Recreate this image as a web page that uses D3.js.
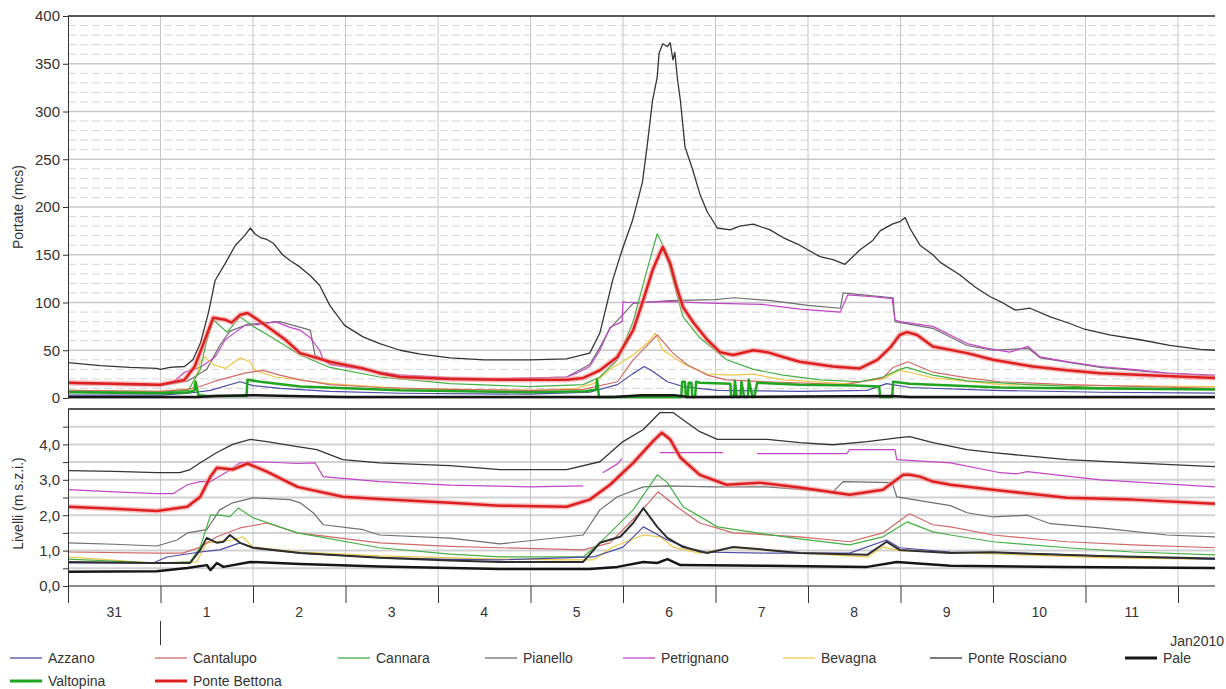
<!DOCTYPE html>
<meta charset="utf-8">
<title>Portate e livelli</title>
<style>
    body { margin: 0; background: #fff; }
    svg { font-family: "Liberation Sans", Arial, sans-serif; }
    .axis text { fill: #333; }
    .axis path, .axis line { stroke: #333; }
</style>
<svg width="1226" height="689"></svg>
<script src="https://d3js.org/d3.v7.min.js"></script>
<script>

    // series keys / legend labels
    var stations = ["Azzano", "Cantalupo", "Cannara", "Pianello", "Petrignano", "Bevagna",
        "Ponte Rosciano", "Pale", "Valtopina", "Ponte Bettona"];

    // day labels under the x axis
    var dayLabels = ["31", "1", "2", "3", "4", "5", "6", "7", "8", "9", "10", "11"];

    var flowTicks = [0, 50, 100, 150, 200, 250, 300, 350, 400];
    var levelTicks = [0, 1, 2, 3, 4];

    // --- portate (mcs), [days since 31 Dec 00:00, value] ---
    var qRosciano = [[0,37],[0.35,34],[0.67,32],[0.96,31],[1.0,30],[1.1,32],[1.26,33],[1.35,40],[1.43,57],[1.52,90],[1.59,123],[1.70,141],[1.81,160],[1.91,170],[1.97,178],[2.02,172],[2.08,168],[2.15,166],[2.22,162],[2.32,150],[2.40,144],[2.51,137],[2.62,128],[2.72,118],[2.83,97],[2.99,76],[3.19,64],[3.37,57],[3.59,50],[3.81,46],[4.13,42],[4.5,40],[4.99,40],[5.39,41],[5.64,47],[5.75,68],[5.89,124],[5.99,155],[6.10,185],[6.16,207],[6.21,226],[6.26,263],[6.32,312],[6.37,336],[6.39,361],[6.43,371],[6.48,368],[6.51,372],[6.54,354],[6.56,362],[6.59,333],[6.62,312],[6.67,263],[6.75,240],[6.83,214],[6.91,195],[7.02,178],[7.16,176],[7.26,180],[7.41,182],[7.59,176],[7.73,168],[7.91,160],[8.13,148],[8.27,145],[8.40,140],[8.56,155],[8.70,165],[8.78,175],[8.91,182],[9.0,185],[9.05,189],[9.10,178],[9.21,160],[9.35,150],[9.43,142],[9.64,129],[9.81,116],[9.97,106],[10.08,101],[10.24,92],[10.40,94],[10.62,85],[10.83,78],[10.99,72],[11.26,66],[11.59,61],[11.91,55],[12.24,51],[12.40,50]];
    var qPetrignano = [[0,16],[0.5,15],[1.0,14],[1.14,17],[1.26,27],[1.43,32],[1.59,43],[1.70,61],[1.81,69],[1.91,76],[2.08,77],[2.24,80],[2.40,74],[2.51,71],[2.62,63],[2.72,50],[2.76,40],[2.83,35],[3.19,30],[3.59,24],[4.13,21],[4.67,20],[5.39,22],[5.50,26],[5.64,33],[5.75,50],[5.86,74],[5.99,80],[6.0,101],[6.04,100],[6.5,101],[7.02,99],[7.5,98],[7.91,93],[8.35,90],[8.43,108],[8.7,106],[8.91,104],[8.94,82],[8.99,80],[9.35,75],[9.72,57],[9.94,52],[10.18,48],[10.38,54],[10.51,43],[10.80,38],[11.16,33],[11.51,30],[11.88,26],[12.40,24]];
    var qPianello = [[0,15],[1.0,13],[1.3,18],[1.5,30],[1.64,55],[1.75,70],[1.94,77],[2.29,80],[2.62,71],[2.67,45],[2.83,36],[3.19,30],[3.59,24],[4.13,21],[4.67,20],[5.39,22],[5.64,35],[5.75,53],[5.86,73],[6.11,99],[6.5,102],[7.0,103],[7.2,105],[7.6,102],[8.0,97],[8.35,94],[8.38,110],[8.7,107],[8.92,105],[8.94,80],[9.35,73],[9.72,55],[10.0,50],[10.38,52],[10.51,42],[11.16,32],[11.88,26],[12.40,23]];
    var qBettona = [[0,16],[0.5,15],[1.0,14],[1.26,19],[1.37,33],[1.48,61],[1.57,84],[1.70,82],[1.77,79],[1.86,87],[1.94,89],[2.02,84],[2.18,73],[2.35,61],[2.51,47],[2.83,38],[3.19,31],[3.37,26],[3.59,22],[4.13,20],[4.67,19],[5.39,19],[5.57,21],[5.75,29],[5.94,43],[6.11,71],[6.22,103],[6.32,134],[6.40,152],[6.43,158],[6.51,141],[6.58,116],[6.65,95],[6.76,79],[6.91,61],[7.05,48],[7.19,45],[7.41,50],[7.56,48],[7.73,43],[7.91,38],[8.27,33],[8.56,31],[8.75,40],[8.89,53],[8.99,66],[9.07,69],[9.18,66],[9.35,54],[9.72,47],[10.0,40],[10.43,33],[10.80,29],[11.16,26],[11.88,23],[12.40,21]];
    var qCannara = [[0,7],[1.0,6],[1.3,8],[1.43,30],[1.50,60],[1.57,82],[1.72,69],[1.86,85],[2.0,75],[2.18,65],[2.51,45],[2.83,32],[3.37,22],[4.13,15],[4.99,12],[5.57,14],[5.75,22],[5.94,40],[6.11,80],[6.22,120],[6.32,155],[6.37,172],[6.43,160],[6.51,135],[6.62,95],[6.65,85],[6.83,63],[6.97,52],[7.12,40],[7.41,30],[7.73,24],[8.13,19],[8.56,17],[8.81,22],[8.99,30],[9.07,32],[9.35,24],[9.72,18],[10.4,14],[11.16,11],[12.40,9]];
    var qCantalupo = [[0,8],[1.0,7],[1.3,9],[1.43,12],[1.6,18],[1.91,26],[2.11,29],[2.29,24],[2.51,19],[2.83,14],[3.37,11],[4.13,9],[4.99,8],[5.57,9],[5.94,17],[6.11,40],[6.29,58],[6.37,66],[6.54,47],[6.69,35],[6.91,24],[7.12,19],[7.56,17],[8.4,14],[8.81,21],[8.92,32],[9.08,38],[9.35,27],[9.72,21],[10.08,17],[10.80,14],[12.40,10]];
    var qBevagna = [[0,8],[1.0,7],[1.35,10],[1.43,38],[1.48,43],[1.57,35],[1.70,31],[1.86,42],[1.97,38],[2.02,29],[2.24,22],[2.83,15],[3.59,10],[4.99,8],[5.50,10],[5.68,15],[5.86,30],[6.11,45],[6.29,60],[6.35,68],[6.43,50],[6.48,47],[6.65,36],[6.91,25],[7.19,24],[7.41,25],[7.73,19],[8.4,15],[8.81,20],[8.99,29],[9.10,27],[9.35,21],[10.08,14],[12.40,12]];
    var qAzzano = [[0,3],[1.0,3],[1.3,5],[1.54,8],[1.86,17],[2.0,13],[2.29,10],[2.83,7],[3.59,5],[4.99,4],[5.64,6],[5.94,14],[6.10,25],[6.23,33],[6.32,28],[6.48,17],[6.65,12],[7.02,8],[7.91,7],[8.64,8],[8.85,15],[9.10,11],[10.0,8],[11.16,6],[12.40,5]];
    var qValtopina = [[0,6],[1.0,5],[1.3,6],[1.37,8],[1.38,17],[1.41,3],[1.5,2],[1.93,2],[1.94,19],[2.08,17],[2.51,12],[3.59,8],[4.99,6],[5.6,7],[5.71,9],[5.72,19],[5.74,1],[6.0,1],[6.63,1],[6.64,17],[6.67,17],[6.68,1],[6.70,1],[6.71,16],[6.74,16],[6.75,1],[6.78,1],[6.79,17],[6.83,16],[7.16,15],[7.17,1],[7.20,1],[7.21,18],[7.23,1],[7.27,1],[7.28,17],[7.31,1],[7.35,1],[7.36,19],[7.40,1],[7.42,1],[7.45,16],[7.91,14],[8.5,13],[8.77,12],[8.78,1],[8.91,1],[8.92,17],[9.1,15],[10.08,11],[11.2,10],[12.40,9]];
    var qPale = [[0,1],[1.4,1],[1.6,2],[2.0,3],[2.4,2],[3.0,1],[5.9,1],[6.2,3],[6.55,3],[6.7,1],[8.9,2],[9.1,1],[12.40,1]];

    // --- livelli (m s.z.i.) ---
    var hRosciano = [[0,3.26],[0.5,3.24],[0.96,3.2],[1.21,3.2],[1.32,3.29],[1.43,3.48],[1.61,3.77],[1.78,4.0],[1.97,4.14],[2.15,4.08],[2.48,3.94],[2.69,3.85],[2.97,3.57],[3.37,3.48],[4.13,3.4],[4.67,3.29],[5.39,3.29],[5.75,3.51],[6.0,4.08],[6.22,4.42],[6.40,4.9],[6.54,4.9],[6.69,4.62],[6.83,4.36],[7.02,4.14],[7.19,4.14],[7.56,4.14],[7.91,4.05],[8.27,3.99],[8.64,4.08],[8.99,4.19],[9.10,4.22],[9.35,4.05],[9.72,3.85],[10.0,3.77],[10.43,3.66],[10.80,3.57],[11.51,3.48],[12.40,3.37]];
    var hPetrignano = [[0,2.72],[0.5,2.66],[0.96,2.61],[1.14,2.61],[1.29,2.86],[1.43,2.95],[1.54,2.95],[1.72,3.23],[1.86,3.48],[2.08,3.51],[2.48,3.46],[2.67,3.48],[2.76,3.09],[3.37,2.95],[4.13,2.85],[4.99,2.8],[5.57,2.83],[5.6,null],[5.78,3.2],[5.94,3.45],[5.99,3.6],[6.0,null],[6.40,3.77],[7.08,3.77],[7.1,null],[7.45,3.74],[8.42,3.74],[8.45,3.85],[8.94,3.85],[8.96,3.57],[9.54,3.48],[10.08,3.2],[10.26,3.17],[10.37,3.23],[11.16,3.0],[12.40,2.8]];
    var hBettona = [[0,2.24],[0.5,2.18],[0.96,2.12],[1.29,2.24],[1.43,2.52],[1.54,3.09],[1.61,3.34],[1.78,3.29],[1.94,3.46],[2.15,3.23],[2.48,2.8],[2.97,2.52],[3.37,2.46],[4.13,2.35],[4.67,2.27],[5.39,2.24],[5.64,2.44],[5.86,2.86],[6.11,3.48],[6.32,4.08],[6.42,4.33],[6.51,4.14],[6.62,3.63],[6.83,3.14],[7.12,2.86],[7.48,2.92],[7.91,2.78],[8.45,2.58],[8.81,2.72],[9.03,3.14],[9.10,3.14],[9.21,3.09],[9.35,2.95],[9.54,2.86],[10.0,2.72],[10.80,2.49],[11.51,2.44],[12.40,2.32]];
    var hPianello = [[0,1.22],[0.5,1.18],[0.96,1.13],[1.18,1.3],[1.29,1.5],[1.50,1.59],[1.64,2.15],[1.78,2.35],[2.0,2.49],[2.40,2.44],[2.51,2.35],[2.65,2.07],[2.76,1.73],[3.19,1.59],[3.37,1.44],[4.13,1.35],[4.67,1.19],[5.57,1.44],[5.75,2.15],[5.94,2.52],[6.22,2.8],[6.48,2.83],[6.97,2.8],[7.56,2.8],[8.27,2.66],[8.38,2.95],[8.91,2.92],[8.96,2.52],[9.54,2.27],[9.72,2.07],[10.0,1.95],[10.37,2.0],[10.62,1.76],[11.16,1.64],[11.88,1.44],[12.40,1.39]];
    var hCantalupo = [[0,0.96],[0.96,0.93],[1.24,0.93],[1.43,1.1],[1.61,1.39],[1.86,1.64],[2.15,1.78],[2.48,1.5],[3.37,1.22],[4.13,1.12],[4.67,1.08],[5.57,1.02],[5.86,1.22],[6.18,2.07],[6.38,2.66],[6.58,2.24],[6.83,1.78],[7.19,1.5],[7.91,1.39],[8.45,1.25],[8.81,1.5],[9.08,2.01],[9.10,2.04],[9.35,1.73],[9.54,1.67],[10.0,1.44],[10.80,1.25],[11.51,1.16],[12.40,1.08]];
    var hCannara = [[0,0.76],[0.96,0.65],[1.32,0.68],[1.43,1.1],[1.54,2.0],[1.64,2.0],[1.75,1.96],[1.84,2.2],[2.0,1.93],[2.48,1.5],[3.37,1.08],[4.13,0.9],[4.67,0.82],[5.57,0.82],[5.75,1.22],[6.11,2.15],[6.37,3.14],[6.48,2.92],[6.65,2.24],[7.02,1.67],[7.45,1.5],[7.91,1.33],[8.45,1.16],[8.81,1.39],[9.07,1.81],[9.35,1.53],[9.54,1.44],[10.0,1.25],[10.80,1.08],[11.51,0.96],[12.40,0.88]];
    var hAzzano = [[0,0.65],[0.92,0.65],[1.07,0.82],[1.43,0.96],[1.64,1.02],[1.86,1.22],[2.0,1.08],[2.51,0.93],[3.37,0.8],[4.13,0.75],[4.67,0.74],[5.68,0.82],[6.0,1.1],[6.22,1.67],[6.48,1.3],[6.83,0.96],[7.56,0.93],[8.45,0.93],[8.85,1.3],[8.99,1.08],[9.54,0.96],[10.0,0.95],[11.16,0.85],[12.40,0.75]];
    var hBevagna = [[0,0.82],[0.92,0.65],[1.39,0.68],[1.50,1.22],[1.78,1.3],[1.89,1.39],[2.0,1.1],[2.51,0.96],[3.37,0.85],[4.67,0.76],[5.39,0.74],[5.68,0.74],[5.89,1.1],[6.22,1.44],[6.40,1.39],[6.54,1.1],[6.83,0.93],[7.19,1.08],[7.91,0.93],[8.64,0.82],[8.81,1.1],[8.99,1.0],[9.54,0.95],[11.16,0.8],[12.40,0.75]];
    var hValtopina = [[0,0.68],[0.92,0.65],[1.32,0.65],[1.43,1.02],[1.50,1.36],[1.61,1.22],[1.68,1.25],[1.75,1.44],[1.86,1.22],[2.0,1.08],[2.51,0.93],[3.37,0.8],[4.13,0.72],[4.67,0.68],[5.57,0.68],[5.75,1.22],[5.97,1.39],[6.11,1.78],[6.22,2.2],[6.37,1.67],[6.48,1.36],[6.65,1.1],[6.91,0.93],[7.19,1.1],[7.56,1.02],[7.91,0.93],[8.64,0.88],[8.85,1.25],[8.99,1.02],[9.54,0.93],[10.0,0.95],[11.16,0.85],[12.40,0.78]];
    var hPale = [[0,0.4],[0.96,0.42],[1.29,0.51],[1.50,0.59],[1.54,0.45],[1.61,0.65],[1.68,0.54],[1.97,0.68],[2.51,0.62],[3.37,0.55],[4.67,0.48],[5.64,0.48],[5.94,0.54],[6.22,0.68],[6.37,0.65],[6.48,0.76],[6.62,0.59],[7.56,0.57],[8.64,0.54],[8.96,0.68],[9.54,0.57],[10.80,0.54],[12.40,0.51]];

    //begin: layout conf.
    var svg = d3.select("svg"),
        left = 68, right = 1215,
        top1 = 16, bottom1 = 398,
        top2 = 409, bottom2 = 586,
        t0 = new Date(2009, 11, 31),
        dayMs = 864e5;
    //end: layout conf.

    var style = {
        "Azzano":         {color: "#4b4ba6", width: 1.2},
        "Cantalupo":      {color: "#d06a6a", width: 1.2},
        "Cannara":        {color: "#45b045", width: 1.2},
        "Pianello":       {color: "#6e6e6e", width: 1.2},
        "Petrignano":     {color: "#c444c8", width: 1.2},
        "Bevagna":        {color: "#ecc848", width: 1.2},
        "Ponte Rosciano": {color: "#353535", width: 1.3},
        "Pale":           {color: "#161616", width: 2.5},
        "Valtopina":      {color: "#1fa51f", width: 2.5},
        "Ponte Bettona":  {color: "#de1f1f", width: 2.5}
    };

    // draw order (back to front)
    var drawOrder = ["Ponte Rosciano", "Pianello", "Petrignano", "Bevagna", "Cantalupo",
        "Cannara", "Azzano", "Valtopina", "Pale", "Ponte Bettona"];

    var flows = {
        "Azzano": qAzzano, "Cantalupo": qCantalupo, "Cannara": qCannara, "Pianello": qPianello,
        "Petrignano": qPetrignano, "Bevagna": qBevagna, "Ponte Rosciano": qRosciano,
        "Pale": qPale, "Valtopina": qValtopina, "Ponte Bettona": qBettona
    };
    var levels = {
        "Azzano": hAzzano, "Cantalupo": hCantalupo, "Cannara": hCannara, "Pianello": hPianello,
        "Petrignano": hPetrignano, "Bevagna": hBevagna, "Ponte Rosciano": hRosciano,
        "Pale": hPale, "Valtopina": hValtopina, "Ponte Bettona": hBettona
    };

    function toDate(d) { return new Date(t0.getTime() + d * dayMs); }

    var x = d3.scaleTime()
        .domain([t0, toDate(12.40)])
        .range([left, right]);
    var yQ = d3.scaleLinear().domain([0, 400]).range([bottom1, top1]);
    var yH = d3.scaleLinear().domain([0, 5]).range([bottom2, top2]);

    var dayBounds = d3.timeDay.range(toDate(1), toDate(12.40));

    // --- grid: top panel ---
    var g1 = svg.append("g");
    g1.selectAll(".hq").data(d3.range(10, 400, 10)).join("line")
        .attr("x1", left).attr("x2", right)
        .attr("y1", function(d) { return yQ(d); }).attr("y2", function(d) { return yQ(d); })
        .attr("stroke", function(d) { return d % 50 === 0 ? "#c9c9c9" : "#d6d6d6"; })
        .attr("stroke-width", function(d) { return d % 50 === 0 ? 1.6 : 1; })
        .attr("stroke-dasharray", function(d) { return d % 50 === 0 ? null : "8,4"; });
    g1.append("line")
        .attr("x1", left).attr("x2", right).attr("y1", yQ(0)).attr("y2", yQ(0))
        .attr("stroke", "#bdbdbd").attr("stroke-width", 1.6);
    g1.selectAll(".vq").data(dayBounds).join("line")
        .attr("x1", function(d) { return x(d); }).attr("x2", function(d) { return x(d); })
        .attr("y1", top1).attr("y2", bottom1)
        .attr("stroke", "#c6c6c6").attr("stroke-width", 1);

    // --- grid: bottom panel ---
    var g2 = svg.append("g");
    g2.selectAll(".hh").data(d3.range(0.5, 5, 0.5)).join("line")
        .attr("x1", left).attr("x2", right)
        .attr("y1", function(d) { return yH(d); }).attr("y2", function(d) { return yH(d); })
        .attr("stroke", "#d2d2d2").attr("stroke-width", 2);
    g2.selectAll(".vh").data(dayBounds).join("line")
        .attr("x1", function(d) { return x(d); }).attr("x2", function(d) { return x(d); })
        .attr("y1", top2).attr("y2", bottom2)
        .attr("stroke", "#c6c6c6").attr("stroke-width", 1);

    // --- series ---
    function drawSeries(group, table, y, bottomPanel) {
        var line = d3.line()
            .defined(function(d) { return d[1] != null; })
            .x(function(d) { return x(toDate(d[0])); })
            .y(function(d) { return y(d[1]); });
        drawOrder.forEach(function(name) {
            var s = style[name], color = s.color;
            if (bottomPanel && name === "Valtopina") color = "#2e2e2e";
            if (name === "Ponte Bettona") {
                group.append("path")
                    .attr("d", line(table[name]))
                    .attr("fill", "none")
                    .attr("stroke", "#f39a9a")
                    .attr("stroke-opacity", 0.6)
                    .attr("stroke-width", 5.5)
                    .attr("stroke-linejoin", "round");
            }
            group.append("path")
                .attr("d", line(table[name]))
                .attr("fill", "none")
                .attr("stroke", color)
                .attr("stroke-width", bottomPanel && name === "Valtopina" ? 2 : s.width)
                .attr("stroke-linejoin", "round");
        });
    }

    svg.append("clipPath").attr("id", "c1").append("rect")
        .attr("x", left).attr("y", top1).attr("width", right - left).attr("height", bottom1 - top1 + 1);
    svg.append("clipPath").attr("id", "c2").append("rect")
        .attr("x", left).attr("y", top2).attr("width", right - left).attr("height", bottom2 - top2);

    drawSeries(svg.append("g").attr("clip-path", "url(#c1)"), flows, yQ, false);
    drawSeries(svg.append("g").attr("clip-path", "url(#c2)"), levels, yH, true);

    // --- frames ---
    svg.append("line").attr("x1", left).attr("x2", right).attr("y1", top1).attr("y2", top1)
        .attr("stroke", "#222").attr("stroke-width", 1.5);
    svg.append("line").attr("x1", left).attr("x2", right).attr("y1", top2).attr("y2", top2)
        .attr("stroke", "#555").attr("stroke-width", 2);
    svg.append("line").attr("x1", left).attr("x2", right).attr("y1", bottom2).attr("y2", bottom2)
        .attr("stroke", "#8a8a8a").attr("stroke-width", 2);

    // --- y axes ---
    var axQ = svg.append("g").attr("class", "axis")
        .attr("transform", "translate(" + left + ",0)")
        .call(d3.axisLeft(yQ).tickValues(flowTicks).tickSize(5).tickSizeOuter(0).tickPadding(3));
    axQ.selectAll("text").attr("font-size", 15);

    var axH = svg.append("g").attr("class", "axis")
        .attr("transform", "translate(" + left + ",0)")
        .call(d3.axisLeft(yH).tickValues(d3.range(0, 5, 0.5)).tickSize(5).tickSizeOuter(0).tickPadding(3)
            .tickFormat(function(d) { return levelTicks.indexOf(d) >= 0 ? d3.format(".1f")(d).replace(".", ",") : ""; }));
    axH.selectAll("text").attr("font-size", 15);

    svg.append("text")
        .attr("transform", "translate(23," + ((top1 + bottom1) / 2) + ") rotate(-90)")
        .attr("text-anchor", "middle").attr("font-size", 14).attr("fill", "#333")
        .text("Portate (mcs)");
    svg.append("text")
        .attr("transform", "translate(23," + ((top2 + bottom2) / 2 + 6) + ") rotate(-90)")
        .attr("text-anchor", "middle").attr("font-size", 14).attr("fill", "#333")
        .text("Livelli (m s.z.i.)");

    // --- x axis ---
    var axX = svg.append("g").attr("class", "axis")
        .attr("transform", "translate(0," + bottom2 + ")")
        .call(d3.axisBottom(x).tickValues([t0].concat(dayBounds)).tickSize(17).tickFormat(""));
    axX.select(".domain").remove();

    svg.selectAll(".daylab").data(dayLabels).join("text")
        .attr("x", function(d, i) { return x(toDate(i + 0.5)); })
        .attr("y", 617)
        .attr("text-anchor", "middle").attr("font-size", 14).attr("fill", "#333")
        .text(function(d) { return d; });

    svg.append("line")
        .attr("x1", x(toDate(1))).attr("x2", x(toDate(1)))
        .attr("y1", 621).attr("y2", 645)
        .attr("stroke", "#333").attr("stroke-width", 1);
    svg.append("text")
        .attr("x", 1224).attr("y", 646).attr("text-anchor", "end")
        .attr("font-size", 14).attr("fill", "#333")
        .text("Jan2010");

    // --- legend ---
    var legendPos = [[10, 658], [155, 658], [338, 658], [485, 658], [623, 658], [783, 658],
        [930, 658], [1125, 658], [10, 681], [155, 681]];
    var legend = svg.append("g").selectAll("g").data(stations).join("g")
        .attr("transform", function(d, i) { return "translate(" + legendPos[i] + ")"; });
    legend.append("line")
        .attr("x1", 0).attr("x2", 32).attr("y1", 0).attr("y2", 0)
        .attr("stroke", function(d) { return style[d].color; })
        .attr("stroke-width", function(d) { return style[d].width > 2 ? 3 : 1.3; });
    legend.append("text")
        .attr("x", 38).attr("y", 5).attr("font-size", 14).attr("fill", "#333")
        .text(function(d) { return d; });

</script>
